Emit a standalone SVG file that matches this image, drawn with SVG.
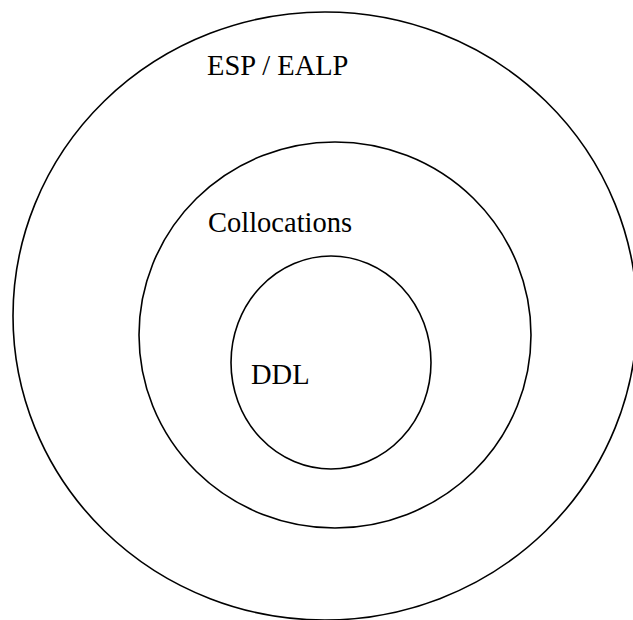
<svg xmlns="http://www.w3.org/2000/svg" width="633" height="620" viewBox="0 0 633 620">
<style>
.ring{fill:none;stroke:#000;stroke-width:1.6}
.lbl{font-family:"Liberation Serif","Times New Roman",serif;font-size:28.5px;fill:#000}
</style>
<rect width="633" height="620" fill="#fff"/>
<g id="esp-ealp">
<ellipse class="ring" cx="325" cy="316" rx="312" ry="304"/>
<text class="lbl" x="207" y="75">ESP / EALP</text>
</g>
<g id="collocations">
<ellipse class="ring" cx="335" cy="335" rx="196" ry="193"/>
<text class="lbl" x="208" y="232">Collocations</text>
</g>
<g id="ddl">
<ellipse class="ring" cx="331" cy="362.5" rx="100" ry="106.5"/>
<text class="lbl" x="251" y="384">DDL</text>
</g>
<g id="connectors"/>
</svg>
